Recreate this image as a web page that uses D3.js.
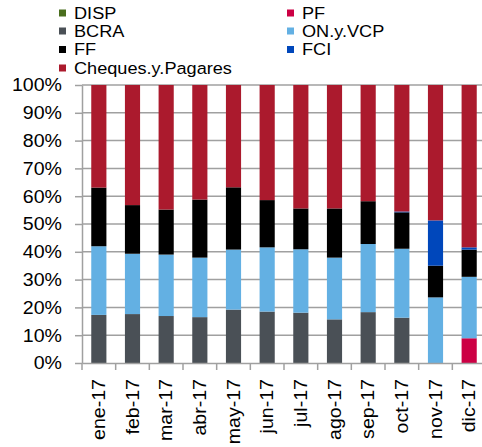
<!DOCTYPE html>
<html><head><meta charset="utf-8">
<script src="https://cdn.jsdelivr.net/npm/d3@7"></script>
<style>body{margin:0;background:#fff}svg{display:block;font-family:"Liberation Sans",Arial,sans-serif}</style>
</head><body><svg id="c" width="482" height="447"></svg>
<script>
const categories = ["ene-17","feb-17","mar-17","abr-17","may-17","jun-17","jul-17","ago-17","sep-17","oct-17","nov-17","dic-17"];
const seriesNames = ["DISP","PF","BCRA","ON.y.VCP","FF","FCI","Cheques.y.Pagares"];
const DISP    = [0,0,0,0,0,0,0,0,0,0,0,0];
const PF      = [0,0,0,0,0,0,0,0,0,0,0,8.9];
const BCRA    = [17.3,17.6,16.9,16.5,19.2,18.5,18.1,15.7,18.3,16.3,0,0];
const ONyVCP  = [24.7,21.7,22.1,21.4,21.6,23.1,22.8,22.2,24.5,24.8,23.6,22.1];
const FF      = [21.1,17.5,16.2,20.9,22.4,17.0,14.7,17.7,15.4,13.1,11.4,9.8];
const FCI     = [0,0,0,0,0,0,0,0,0,0.3,16.3,0.8];
const Cheques = [36.9,43.2,44.8,41.2,36.8,41.4,44.4,44.4,41.8,45.5,48.7,58.4];
const yTicks = [0,0.1,0.2,0.3,0.4,0.5,0.6,0.7,0.8,0.9,1];
const colors = ["#4a6e1e","#cc0044","#4a5056","#63b0e3","#000000","#0047bb","#ab1a2d"];

const seriesData = [DISP,PF,BCRA,ONyVCP,FF,FCI,Cheques];
const rows = categories.map((c,i)=>{const o={cat:c};seriesNames.forEach((s,j)=>o[s]=seriesData[j][i]);return o;});
const stacked = d3.stack().keys(seriesNames).offset(d3.stackOffsetExpand)(rows);

const svg = d3.select("#c");
const x = d3.scaleBand().domain(categories).range([82,486]).padding(0);
const y = d3.scaleLinear().domain([0,1]).range([363,85]);
const color = d3.scaleOrdinal().domain(seriesNames).range(colors);
const SX = 1.12;
const fmt = d3.format(".0%");

// gridlines
svg.append("g").selectAll("line").data(yTicks.slice(1)).join("line")
  .attr("x1",82).attr("x2",486).attr("y1",d=>y(d)).attr("y2",d=>y(d))
  .attr("stroke","#a0a0a0").attr("stroke-width",1.5);

// bars
const bw = x.step()*0.45, off = (x.step()-bw)/2;
svg.append("g").selectAll("g").data(stacked).join("g").attr("fill",d=>color(d.key))
  .selectAll("rect").data(d=>d).join("rect")
  .attr("x",d=>x(d.data.cat)+off).attr("width",bw)
  .attr("y",d=>y(d[1])).attr("height",d=>Math.max(0,y(d[0])-y(d[1])));

// y axis
const ya = svg.append("g").attr("transform","translate(82,0)")
  .call(d3.axisLeft(y).tickValues(yTicks).tickFormat("").tickSize(7).tickSizeOuter(0));
ya.select(".domain").attr("stroke","#a0a0a0").attr("stroke-width",1.5);
ya.selectAll(".tick line").attr("stroke","#a0a0a0").attr("stroke-width",1.5);
svg.append("g").selectAll("text").data(yTicks).join("text")
  .attr("transform",d=>`translate(62,${y(d)}) scale(${SX},1)`)
  .attr("text-anchor","end").attr("dy","0.36em").attr("font-size",17.5).attr("fill","#000")
  .text(d=>fmt(d));

// x axis
const xa = svg.append("g").attr("transform","translate(0,363)")
  .call(d3.axisBottom(x).tickSize(0).tickSizeOuter(0).tickFormat(""));
xa.select(".domain").attr("stroke","#a0a0a0").attr("stroke-width",1.5);
svg.append("g").selectAll("line").data(d3.range(categories.length+1)).join("line")
  .attr("x1",i=>x.range()[0]+i*x.step()).attr("x2",i=>x.range()[0]+i*x.step())
  .attr("y1",363).attr("y2",370).attr("stroke","#a0a0a0").attr("stroke-width",1.5);
svg.append("g").selectAll("text").data(categories).join("text")
  .attr("transform",d=>`translate(${x(d)+x.bandwidth()/2},379) rotate(-90) scale(${SX},1)`)
  .attr("text-anchor","end").attr("dy","0.36em").attr("font-size",17.5).attr("fill","#000")
  .text(d=>d);

// legend
const legendPos = [[59,13],[287,13],[59,31],[287,31],[59,49.5],[287,49.5],[59,68]];
const lg = svg.append("g").selectAll("g").data(seriesNames).join("g")
  .attr("transform",(d,i)=>`translate(${legendPos[i][0]},${legendPos[i][1]})`);
lg.append("rect").attr("x",0).attr("y",-3.5).attr("width",7).attr("height",7).attr("fill",d=>color(d));
lg.append("text").attr("transform",`translate(15,0) scale(1.1,1)`).attr("dy","0.36em")
  .attr("font-size",16.5).attr("fill","#000").text(d=>d);
</script></body></html>
